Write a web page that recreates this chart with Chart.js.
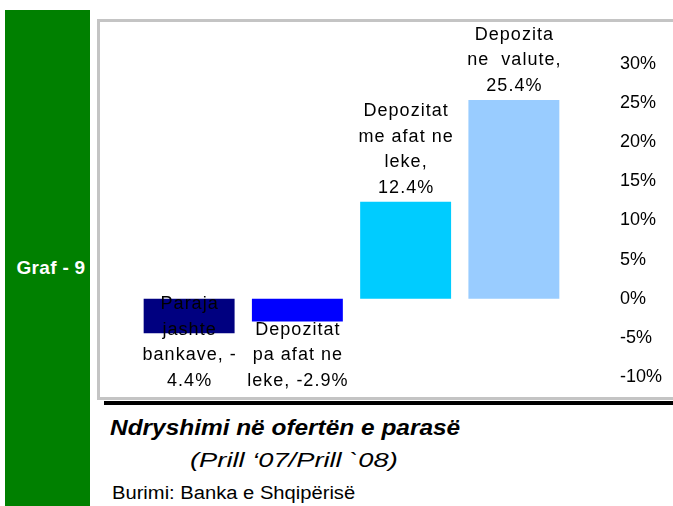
<!DOCTYPE html>
<html>
<head>
<meta charset="utf-8">
<script src="https://cdn.jsdelivr.net/npm/chart.js"></script>
<style>
    body { margin: 0; width: 673px; height: 506px; overflow: hidden; background: #fff; position: relative;
           font-family: "Liberation Sans", Arial, sans-serif; }
    #side { position: absolute; left: 5px; top: 10px; width: 85px; height: 496px; background: #008000; }
    #side span { position: absolute; left: 0; width: 92px; top: 247px; text-align: center;
                 color: #fff; font-weight: bold; font-size: 19px; letter-spacing: 0.3px; }
    #frame { position: absolute; left: 97px; top: 19px; width: 600px; height: 375px; border: 3px solid #c4c4c4; }
    #rule { position: absolute; left: 104px; top: 401px; width: 569px; height: 4px; background: #000; }
    #chart { position: absolute; left: 100px; top: 22px; }
    .txt { position: absolute; white-space: nowrap; transform-origin: left top; }
    #title { left: 110px; top: 415px; font-size: 22px; font-weight: bold; font-style: italic; transform: scaleX(1.11); }
    #sub { left: 190px; top: 448px; font-size: 21px; font-style: italic; transform: scaleX(1.3); }
    #src { left: 112px; top: 483px; font-size: 18px; transform: scaleX(1.12); }
</style>
</head>
<body>
<div id="side"><span>Graf - 9</span></div>
<div id="frame"></div>
<canvas id="chart" width="573" height="375"></canvas>
<div id="rule"></div>
<div class="txt" id="title">Ndryshimi në ofertën e parasë</div>
<div class="txt" id="sub">(Prill ‘07/Prill `08)</div>
<div class="txt" id="src">Burimi: Banka e Shqipërisë</div>

<script>
// Data
const categories = ['Paraja jashte bankave', 'Depozitat pa afat ne leke', 'Depozitat me afat ne leke', 'Depozita ne valute'];
const values = [-4.4, -2.9, 12.4, 25.4];
const labelLines = [
    ['Paraja', 'jashte', 'bankave, -', '4.4%'],
    ['Depozitat', 'pa afat ne', 'leke, -2.9%'],
    ['Depozitat', 'me afat ne', 'leke,', '12.4%'],
    ['Depozita', 'ne  valute,', '25.4%']
];
const barColors = ['#000080', '#0000ff', '#00ccff', '#99ccff'];
const yTicks = [-10, -5, 0, 5, 10, 15, 20, 25, 30];

// Multi-line data labels: above positive bars, pinned to the bottom for negative ones
const barLabels = {
    id: 'barLabels',
    afterDatasetsDraw(chart) {
        const ctx = chart.ctx;
        const meta = chart.getDatasetMeta(0);
        const lineH = 25.5;
        ctx.save();
        ctx.font = '18px "Liberation Sans", Arial, sans-serif';
        ctx.letterSpacing = '1px';
        ctx.fillStyle = '#000';
        ctx.textAlign = 'center';
        ctx.textBaseline = 'middle';
        meta.data.forEach((bar, i) => {
            const lines = labelLines[i];
            const lastY = values[i] >= 0 ? bar.y - 14 : chart.chartArea.bottom + 4;
            lines.forEach((t, k) => {
                ctx.fillText(t, bar.x + 0.5, lastY - (lines.length - 1 - k) * lineH);
            });
        });
        ctx.restore();
    }
};

new Chart(document.getElementById('chart'), {
    type: 'bar',
    data: {
        labels: categories,
        datasets: [{
            data: values,
            backgroundColor: barColors,
            borderWidth: 0,
            categoryPercentage: 1,
            barPercentage: 0.84
        }]
    },
    options: {
        responsive: false,
        animation: false,
        layout: { padding: { left: 35, top: 42, bottom: 20, right: 0 } },
        plugins: { legend: { display: false }, tooltip: { enabled: false } },
        scales: {
            x: { display: false },
            y: {
                position: 'right',
                min: -10,
                max: 30,
                afterBuildTicks: (scale) => { scale.ticks = yTicks.map(v => ({ value: v })); },
                afterFit: (scale) => {
                    scale.width = 105;
                    scale.paddingTop = 0;
                    scale.paddingBottom = 0;
                },
                grid: { display: false, drawTicks: false },
                border: { display: false },
                ticks: {
                    padding: 52,
                    color: '#000',
                    font: { family: '"Liberation Sans", Arial, sans-serif', size: 18 },
                    callback: (v) => v + '%'
                }
            }
        }
    },
    plugins: [barLabels]
});
</script>
</body>
</html>
